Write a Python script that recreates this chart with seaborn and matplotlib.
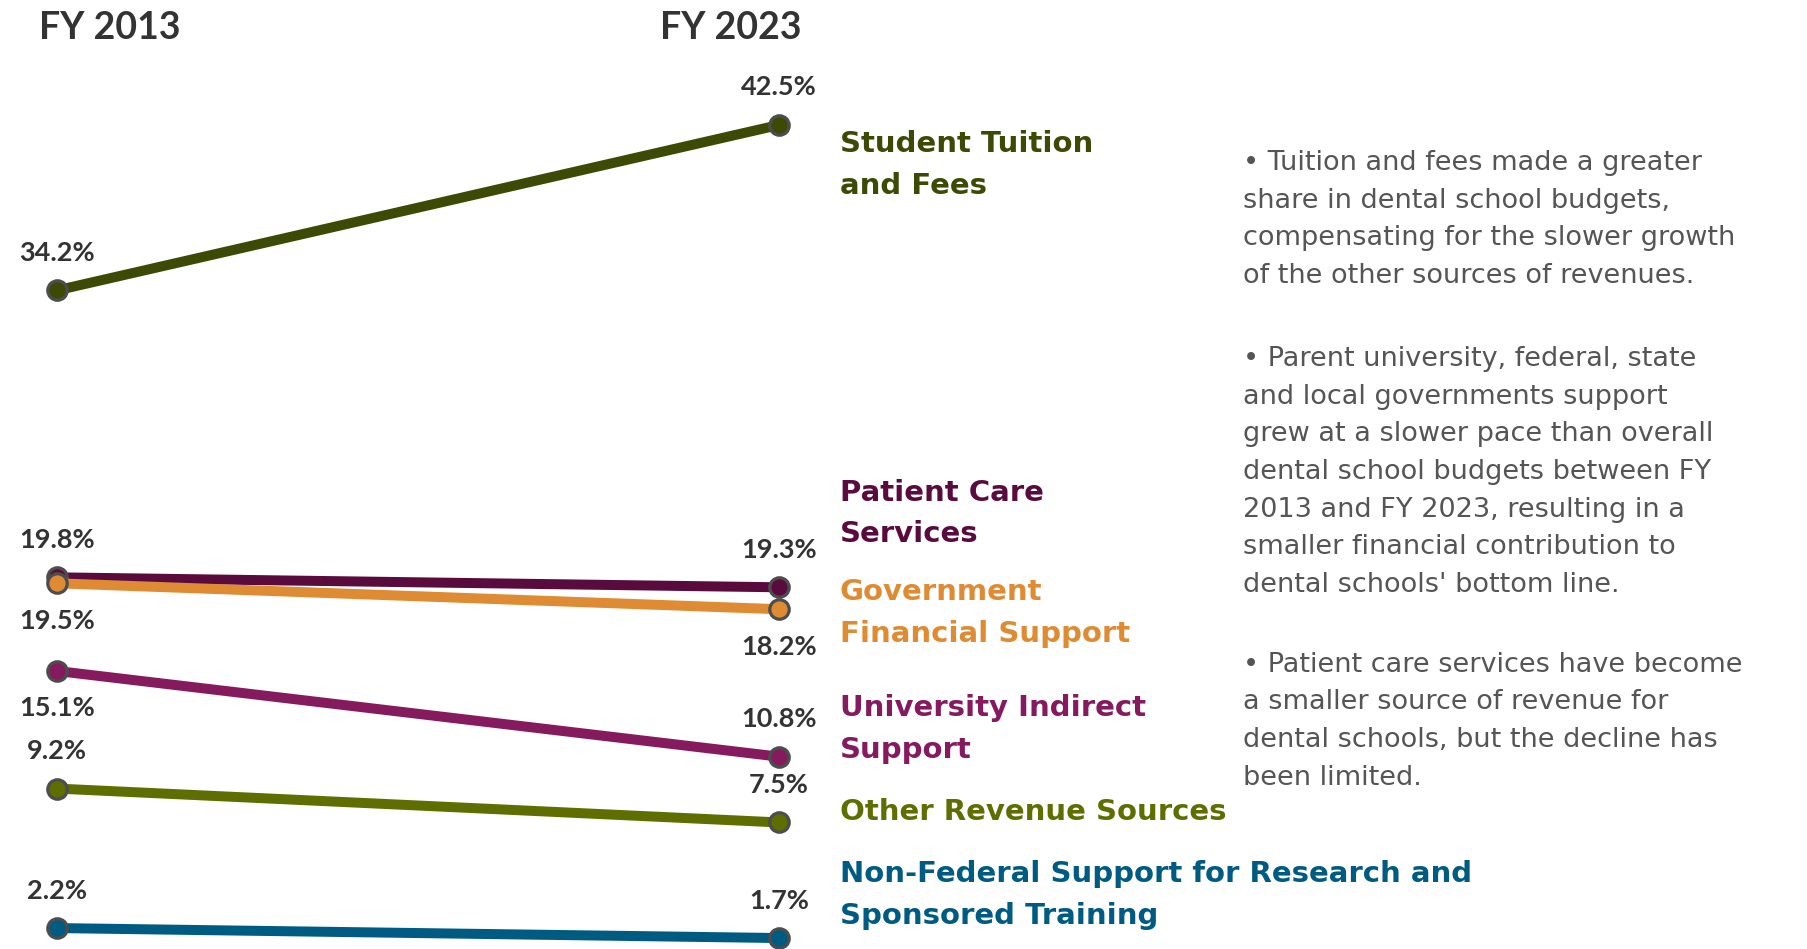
import matplotlib
matplotlib.use("Agg")
import matplotlib.pyplot as plt
import seaborn as sns
import pandas as pd

# Revenue shares of dental school budgets, FY 2013 vs FY 2023
years = ["FY 2013", "FY 2023"]
sources = [
    "Student Tuition and Fees",
    "Patient Care Services",
    "Government Financial Support",
    "University Indirect Support",
    "Other Revenue Sources",
    "Non-Federal Support for Research and Sponsored Training",
]
share_2013 = [34.2, 19.8, 19.5, 15.1, 9.2, 2.2]
share_2023 = [42.5, 19.3, 18.2, 10.8, 7.5, 1.7]

source_labels = [
    "Student Tuition\nand Fees",
    "Patient Care\nServices",
    "Government\nFinancial Support",
    "University Indirect\nSupport",
    "Other Revenue Sources",
    "Non-Federal Support for Research and\nSponsored Training",
]
source_colors = ["#3c4a05", "#5a0b3e", "#de8b33", "#851a5e", "#5e6e00", "#005b82"]

notes = [
    "\u2022 Tuition and fees made a greater\nshare in dental school budgets,\n"
    "compensating for the slower growth\nof the other sources of revenues.",
    "\u2022 Parent university, federal, state\nand local governments support\n"
    "grew at a slower pace than overall\ndental school budgets between FY\n"
    "2013 and FY 2023, resulting in a\nsmaller financial contribution to\n"
    "dental schools' bottom line.",
    "\u2022 Patient care services have become\na smaller source of revenue for\n"
    "dental schools, but the decline has\nbeen limited.",
]

# which side of each marker its value label sits on (+1 above, -1 below)
label_side_2013 = [1, 1, -1, -1, 1, 1]
label_side_2023 = [1, 1, -1, 1, 1, 1]
# vertical anchor of each category label, in figure fraction
label_anchor_y = [0.826, 0.459, 0.354, 0.232, 0.144, 0.057]
note_anchor_y = [0.842, 0.6356, 0.3134]

df = pd.DataFrame({
    "source": sources * 2,
    "year": [years[0]] * len(sources) + [years[1]] * len(sources),
    "pos": [0] * len(sources) + [1] * len(sources),
    "share": share_2013 + share_2023,
})
palette = dict(zip(sources, source_colors))

sns.set_theme(style="white")
NUM_FONT = ["Lato", "DejaVu Sans"]
LABEL_FONT = ["DejaVu Sans"]

fig = plt.figure(figsize=(18.08, 9.49), dpi=100)
ax = fig.add_axes([0, 0, 1, 1])

sns.lineplot(
    data=df, x="pos", y="share", hue="source", hue_order=sources,
    palette=palette, linewidth=7.2, marker="o", markersize=14,
    markeredgecolor="#4d4d4d", markeredgewidth=2.3, legend=False,
    sort=False, ax=ax,
)

ax.set_xlim(-0.079, 2.425)
ax.set_ylim(1.15, 48.77)
ax.axis("off")

# value labels next to each marker
for vals, sides, xpos in ((share_2013, label_side_2013, 0), (share_2023, label_side_2023, 1)):
    for v, s in zip(vals, sides):
        ax.annotate(
            f"{v:.1f}%", xy=(xpos, v), xytext=(0, 27 * s), textcoords="offset points",
            ha="center", va="center", fontsize=19.5, fontweight="bold",
            color="#333333", family=NUM_FONT,
        )

# column headers
fig.text(0.0605, 0.970, years[0], ha="center", va="center", fontsize=27,
         fontweight="bold", color="#333333", family=NUM_FONT)
fig.text(0.404, 0.970, years[1], ha="center", va="center", fontsize=27,
         fontweight="bold", color="#333333", family=NUM_FONT)

# category labels right of the FY 2023 end points
for lbl, col, yv in zip(source_labels, source_colors, label_anchor_y):
    fig.text(0.4645, yv, lbl, ha="left", va="center", fontsize=21,
             fontweight="bold", color=col, family=LABEL_FONT, linespacing=1.62)

# commentary
for txt, yv in zip(notes, note_anchor_y):
    fig.text(0.6875, yv, txt, ha="left", va="top", fontsize=19.5,
             color="#555555", family=LABEL_FONT, linespacing=1.585)

fig.savefig("out.png", dpi=100, facecolor="white")
